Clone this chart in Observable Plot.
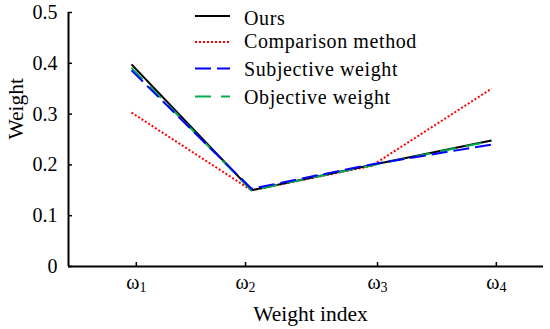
<!DOCTYPE html>
<html>
<head>
<meta charset="utf-8">
<script src="https://cdn.jsdelivr.net/npm/d3@7"></script>
<script src="https://cdn.jsdelivr.net/npm/@observablehq/plot@0.6"></script>
<style>
  html, body { margin: 0; padding: 0; background: #fff; }
  #chart svg { display: block; font-family: "Liberation Serif", "Times New Roman", serif; }
</style>
</head>
<body>
<div id="chart"></div>
<script>
// ---- data ----
const indices = [1, 2, 3, 4];
const ours = [0.398, 0.150, 0.200, 0.248];
const comparison = [0.303, 0.150, 0.198, 0.350];
const subjective = [0.386, 0.153, 0.201, 0.240];
const objective = [0.391, 0.150, 0.199, 0.247];
const seriesNames = ["Ours", "Comparison method", "Subjective weight", "Objective weight"];
const seriesColors = ["#000000", "#ff0000", "#0000ff", "#00b050"];
const seriesDash = ["none", "2,2", "16,6", "16,10"];
const xTickPositions = [1.04, 1.95, 3.05, 4.04];
const xTickBase = ["ω", "ω", "ω", "ω"];
const xTickSub = ["1", "2", "3", "4"];
const yTicks = [0, 0.1, 0.2, 0.3, 0.4, 0.5];
const xLabel = "Weight index";
const yLabel = "Weight";

const seriesValues = [ours, comparison, subjective, objective];
const rows = [];
seriesValues.forEach((vals, s) => vals.forEach((v, i) => rows.push({series: seriesNames[s], x: indices[i], y: v})));

const xDomain = [0.475, 4.433];
const font = 20;
const labelFont = 21.5;

// draw order: red, black, green, blue
const order = [1, 0, 3, 2];
const lineMarks = order.map(s => Plot.line(rows.filter(r => r.series === seriesNames[s]), {
  x: "x", y: "y", stroke: seriesColors[s], strokeWidth: 2, strokeLinecap: "butt",
  strokeDasharray: seriesDash[s] === "none" ? undefined : seriesDash[s]
}));

const chart = Plot.plot({
  width: 550,
  height: 329,
  marginLeft: 68,
  marginRight: 7,
  marginTop: 12,
  marginBottom: 63,
  style: {fontFamily: '"Liberation Serif", "Times New Roman", serif', fontSize: font + "px", background: "#fff", color: "#000"},
  x: {domain: xDomain},
  y: {domain: [0, 0.5]},
  marks: [
    Plot.axisY({ticks: yTicks, tickSize: 0, tickPadding: 11, tickFormat: d => String(d), fontSize: font, label: null}),
    Plot.axisY({ticks: yTicks, tickSize: 4, dx: 4, fill: "none", strokeWidth: 1.5, label: null}),
    Plot.axisX({ticks: xTickPositions, tickSize: 0, tickPadding: 8, tickFormat: (d, i) => xTickBase[i] + xTickSub[i], fontSize: font, label: null}),
    Plot.axisX({ticks: xTickPositions, tickSize: 4, dy: -4, fill: "none", strokeWidth: 1.5, label: null}),
    Plot.ruleX([xDomain[0]], {y1: 0, y2: 0.5, strokeWidth: 2}),
    Plot.ruleY([0], {strokeWidth: 2}),
    ...lineMarks,
    Plot.text([xLabel], {frameAnchor: "bottom", dx: 4.5, dy: 47.5, lineAnchor: "middle", fontSize: labelFont}),
    Plot.text([yLabel], {frameAnchor: "left", dx: -52, rotate: -90, lineAnchor: "middle", fontSize: labelFont})
  ]
});

document.getElementById("chart").appendChild(chart);

// subscripts on x tick labels
const svg = d3.select(chart);
svg.selectAll("g[aria-label='x-axis tick label'] text").each(function() {
  const t = d3.select(this);
  const txt = t.text();
  const base = txt.slice(0, -1), sub = txt.slice(-1);
  t.text(null);
  t.append("tspan").text(base);
  t.append("tspan").attr("dy", "0.2em").attr("font-size", "14px").text(sub);
});

// legend
const legend = svg.append("g")
  .attr("font-size", font)
  .attr("text-anchor", "start")
  .attr("font-family", '"Liberation Serif", "Times New Roman", serif');
const lineYs = [16, 42, 68.5, 96.5];
const textYs = [24.5, 47.5, 76, 103.5];
seriesNames.forEach((name, s) => {
  legend.append("line")
    .attr("x1", 195).attr("x2", 230)
    .attr("y1", lineYs[s]).attr("y2", lineYs[s])
    .attr("stroke", seriesColors[s]).attr("stroke-width", 2)
    .attr("stroke-dasharray", seriesDash[s] === "none" ? null : seriesDash[s]);
  legend.append("text")
    .attr("x", 244).attr("y", textYs[s])
    .attr("text-anchor", "start")
    .attr("letter-spacing", "0.6px")
    .attr("fill", "#000")
    .text(name);
});
</script>
</body>
</html>
